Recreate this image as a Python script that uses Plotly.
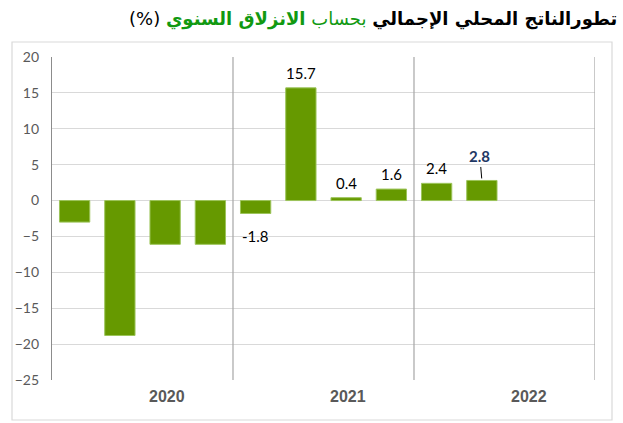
import plotly.graph_objects as go

# ---- data ----
quarters = ["T1 2020", "T2 2020", "T3 2020", "T4 2020",
            "T1 2021", "T2 2021", "T3 2021", "T4 2021",
            "T1 2022", "T2 2022", "T3 2022", "T4 2022"]
growth = [-3.0, -18.8, -6.1, -6.1, -1.8, 15.7, 0.4, 1.6, 2.4, 2.8, None, None]
show_label = [False, False, False, False, True, True, True, True, True, True, False, False]
years = ["2020", "2021", "2022"]
year_label_at = ["T3 2020", "T3 2021", "T3 2022"]
y_ticks = [-25, -20, -15, -10, -5, 0, 5, 10, 15, 20]

W, H = 623, 423
ML, MR, MT, MB = 52, 28, 57, 43
PW, PH = W - ML - MR, H - MT - MB

def px_to_paper_x(px):
    return (px - ML) / PW

def px_to_paper_y(py):
    return (H - MB - py) / PH

fig = go.Figure()
fig.add_trace(go.Bar(
    x=quarters, y=growth,
    marker=dict(color="#669900", line=dict(color="#9cc45a", width=1)),
    hoverinfo="x+y",
))

annotations = []
for q, v, s in zip(quarters, growth, show_label):
    if not s or v is None:
        continue
    if q == "T2 2022":
        annotations.append(dict(
            x=q, y=v, text="<b>%.1f</b>" % v, showarrow=True, arrowhead=0,
            arrowwidth=1, arrowcolor="#000000", ax=-2, ay=-24, standoff=2,
            font=dict(family="Lato, Noto Sans, sans-serif", size=15, color="#1f3864"),
        ))
    elif v >= 0:
        annotations.append(dict(
            x=q, y=v, text="%.1f" % v, showarrow=False, yanchor="bottom", yshift=4,
            font=dict(family="Lato, Noto Sans, sans-serif", size=15, color="#000000"),
        ))
    else:
        annotations.append(dict(
            x=q, y=v, text="%.1f" % v, showarrow=False, yanchor="top", yshift=-12,
            font=dict(family="Lato, Noto Sans, sans-serif", size=15, color="#000000"),
        ))

for yr, q in zip(years, year_label_at):
    annotations.append(dict(
        x=q, y=px_to_paper_y(407), yref="paper", text="<b>%s</b>" % yr, showarrow=False,
        xshift=2,
        font=dict(family="Liberation Sans Narrow, Arial Narrow, Liberation Sans, sans-serif",
                  size=16, color="#595959"),
    ))

# title (Arabic, right aligned)
annotations.append(dict(
    xref="paper", yref="paper", x=px_to_paper_x(619), y=px_to_paper_y(19),
    xanchor="right", yanchor="middle", showarrow=False,
    text=("(%) "
          "<b>تطورالناتج المحلي الإجمالي</b> "
          "<span style='color:#119911'>بحساب <b>الانزلاق السنوي</b></span>"),
    font=dict(family="DejaVu Sans, Liberation Sans, sans-serif", size=18, color="#000000"),
))

shapes = []
# outer chart border
shapes.append(dict(type="rect", xref="paper", yref="paper",
                   x0=px_to_paper_x(12), x1=px_to_paper_x(612),
                   y0=px_to_paper_y(420), y1=px_to_paper_y(42),
                   line=dict(color="#d9d9d9", width=1.2), layer="below"))
# group separators and right edge
for xs in [3.5, 7.5, 11.5]:
    shapes.append(dict(type="line", xref="x", yref="y", x0=xs, x1=xs, y0=-25, y1=20,
                       line=dict(color="#a6a6a6", width=1.2), layer="above"))

fig.update_layout(
    width=W, height=H,
    margin=dict(l=ML, r=MR, t=MT, b=MB),
    paper_bgcolor="white", plot_bgcolor="white",
    showlegend=False,
    bargap=0.33,
    annotations=annotations,
    shapes=shapes,
    xaxis=dict(
        type="category", categoryorder="array", categoryarray=quarters,
        range=[-0.5, 11.5], showticklabels=False, showgrid=False,
        zeroline=False, showline=False, ticks="", fixedrange=True,
    ),
    yaxis=dict(
        range=[-25, 20], tickvals=y_ticks, showgrid=True, gridcolor="#d9d9d9", gridwidth=1.3,
        zeroline=True, zerolinecolor="#d9d9d9", zerolinewidth=1.3,
        showline=True, linecolor="#8c8c8c", linewidth=1.2,
        ticks="", ticklabelstandoff=9,
        tickfont=dict(family="Lato, Noto Sans, sans-serif", size=14, color="#595959"),
        fixedrange=True,
    ),
)

fig.write_html("out.html", config={"displayModeBar": False},
               post_script="document.body.style.margin='0';document.body.style.padding='0';")
